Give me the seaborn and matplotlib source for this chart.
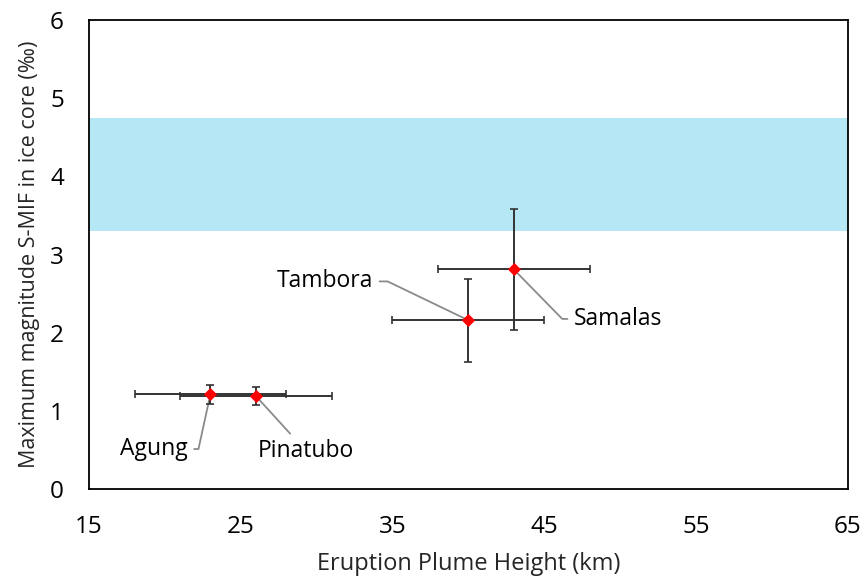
import matplotlib
matplotlib.use("Agg")
import matplotlib.pyplot as plt
import seaborn as sns
import pandas as pd

# Eruption data
volcanoes = ["Agung", "Pinatubo", "Tambora", "Samalas"]
plume_height = [23, 26, 40, 43]          # km
plume_height_err = [5, 5, 5, 5]          # km
smif_max = [1.21, 1.19, 2.16, 2.81]      # per mil
smif_err = [0.12, 0.12, 0.53, 0.78]      # per mil

# Shaded range of S-MIF magnitude
band_low, band_high = 3.3, 4.75

x_ticks = [15, 25, 35, 45, 55, 65]
y_ticks = [0, 1, 2, 3, 4, 5, 6]

df = pd.DataFrame({"volcano": volcanoes, "height": plume_height,
                   "smif": smif_max, "xerr": plume_height_err,
                   "yerr": smif_err})

sns.set_style("white")
plt.rcParams["font.family"] = ["Open Sans", "DejaVu Sans"]

fig = plt.figure(figsize=(8.64, 5.77), dpi=100)
ax = fig.add_axes([0.103, 0.1525, 0.878, 0.8125])

ax.axhspan(band_low, band_high, color="#b5e7f4", lw=0, zorder=0)

ax.errorbar(df["height"], df["smif"], xerr=df["xerr"], yerr=df["yerr"],
            fmt="none", ecolor="#333333", elinewidth=1.4, capsize=3,
            capthick=1.2, zorder=2)

sns.scatterplot(data=df, x="height", y="smif", marker="D", color="red",
                s=45, edgecolor="red", linewidth=0, zorder=3, ax=ax,
                legend=False)

# Labels with leader lines: (text x, baseline y, connection style)
label_specs = {
    "Agung": (19.3, 0.435, "angle,angleA=0,angleB=77.7,rad=0"),
    "Pinatubo": (29.3, 0.41, "arc3,rad=0"),
    "Tambora": (30.58, 2.58, "angle,angleA=0,angleB=154.3,rad=0"),
    "Samalas": (49.85, 2.10, "angle,angleA=0,angleB=134.4,rad=0"),
}
for _, row in df.iterrows():
    tx, ty, conn = label_specs[row["volcano"]]
    ax.annotate(row["volcano"], xy=(row["height"], row["smif"]),
                xytext=(tx, ty), ha="center", va="baseline", fontsize=16.5,
                color="black",
                arrowprops=dict(arrowstyle="-", color="#8a8a8a", lw=1.3,
                                connectionstyle=conn, shrinkA=2,
                                shrinkB=0),
                zorder=1)

ax.set_xlim(15, 65)
ax.set_ylim(0, 6)
ax.set_xticks(x_ticks)
ax.set_yticks(y_ticks)
ax.tick_params(axis="both", direction="in", length=5, width=1,
               labelsize=17.5, colors="black")
ax.tick_params(axis="x", pad=19)
ax.tick_params(axis="y", pad=18)

for side in ax.spines.values():
    side.set_color("black")
    side.set_linewidth(1.3)

ax.set_xlabel("Eruption Plume Height (km)", fontsize=17, labelpad=9)
ax.set_ylabel("Maximum magnitude S-MIF in ice core (‰)", fontsize=15.5,
              labelpad=7)

fig.savefig("out.png", dpi=100)
